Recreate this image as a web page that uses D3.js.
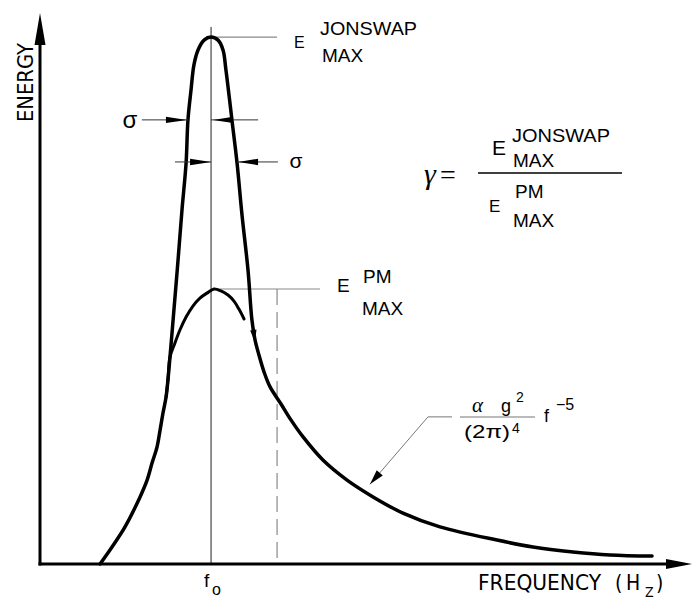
<!DOCTYPE html>
<html>
<head>
<meta charset="utf-8">
<script src="https://cdn.jsdelivr.net/npm/d3@7"></script>
<style>
  body { margin: 0; background: #fff; }
  svg { display: block; }
  .sans { font-family: "Liberation Sans", Arial, sans-serif; }
  .cond { font-family: "DejaVu Sans Condensed", "DejaVu Sans", sans-serif; font-stretch: condensed; }
  .serif { font-family: "Liberation Serif", "Times New Roman", serif; }
</style>
</head>
<body>
<svg id="chart" width="692" height="599"></svg>
<script>
// Frequency is measured in units of the peak frequency f0,
// energy in units of the Pierson-Moskowitz peak value.

// JONSWAP spectrum (rising flank, sharpened peak, f^-5 tail)
const jonswapFreq = [0.351, 0.421, 0.497, 0.585, 0.626, 0.655, 0.684, 0.702, 0.719, 0.737,
  0.748, 0.760, 0.783, 0.807, 0.830, 0.854, 0.865, 0.883, 0.900, 0.924, 0.959, 1.000,
  1.041, 1.070, 1.087, 1.105, 1.122, 1.152, 1.181, 1.216, 1.239, 1.257, 1.280, 1.310,
  1.345, 1.409, 1.467, 1.538, 1.654, 1.795, 1.947, 2.122, 2.338, 2.672, 2.882, 3.116,
  3.332, 3.578];
const jonswapEnergy = [0.000, 0.062, 0.135, 0.244, 0.305, 0.367, 0.425, 0.487, 0.549, 0.607,
  0.669, 0.753, 0.924, 1.105, 1.287, 1.458, 1.615, 1.724, 1.815, 1.869, 1.905, 1.916,
  1.905, 1.869, 1.796, 1.705, 1.615, 1.458, 1.269, 1.069, 0.887, 0.815, 0.760, 0.698,
  0.644, 0.582, 0.524, 0.462, 0.378, 0.305, 0.244, 0.185, 0.135, 0.087, 0.062, 0.044,
  0.033, 0.029];

// Pierson-Moskowitz spectrum around its peak
const pmFreq = [0.737, 0.748, 0.760, 0.789, 0.818, 0.854, 0.894, 0.935, 0.976, 1.017,
  1.058, 1.099, 1.134, 1.163, 1.193];
const pmEnergy = [0.607, 0.669, 0.753, 0.804, 0.851, 0.898, 0.938, 0.967, 0.985, 1.000,
  0.993, 0.978, 0.956, 0.927, 0.891];

// reference values
const f0 = 1.0;
const eMaxJonswap = 1.916;
const eMaxPM = 1.0;
const fDashed = 1.386;

// spectral width markers: level and [from, to] frequency span
const sigmaLevels = [1.615, 1.462];
const sigmaSpans = [[0.865, 1.0], [1.0, 1.152]];

// leader to the f^-5 tail: [frequency, energy] vertices
const leaderFreq = [2.409, 2.268, 1.929];
const leaderEnergy = [0.535, 0.535, 0.290];

const svg = d3.select("#chart");
const x = d3.scaleLinear().domain([0, 3.8]).range([40, 690]);
const y = d3.scaleLinear().domain([0, 2]).range([564, 14]);

function head(tip, from, len, hw) {
  const dx = tip[0] - from[0], dy = tip[1] - from[1];
  const d = Math.hypot(dx, dy), ux = dx / d, uy = dy / d;
  const bx = tip[0] - ux * len, by = tip[1] - uy * len;
  return `M${tip[0]},${tip[1]}L${bx - uy * hw},${by + ux * hw}L${bx + uy * hw},${by - ux * hw}Z`;
}

const line = d3.line().x(d => x(d[0])).y(d => y(d[1])).curve(d3.curveCatmullRom.alpha(0.5));

// ---- reference lines ----
svg.append("line")
  .attr("x1", x(f0)).attr("x2", x(f0))
  .attr("y1", y(eMaxJonswap + 0.037)).attr("y2", y(0))
  .attr("stroke", "#222").attr("stroke-width", 1);

svg.append("line")
  .attr("x1", x(f0) + 2).attr("x2", x(fDashed))
  .attr("y1", y(eMaxJonswap)).attr("y2", y(eMaxJonswap))
  .attr("stroke", "#8a8a8a").attr("stroke-width", 1.2);

svg.append("line")
  .attr("x1", x(f0) + 4).attr("x2", x(1.637))
  .attr("y1", y(eMaxPM)).attr("y2", y(eMaxPM))
  .attr("stroke", "#8a8a8a").attr("stroke-width", 1.2);

svg.append("line")
  .attr("x1", x(fDashed)).attr("x2", x(fDashed))
  .attr("y1", y(eMaxPM)).attr("y2", y(0))
  .attr("stroke", "#8a8a8a").attr("stroke-width", 1.2)
  .attr("stroke-dasharray", "16,7");

// ---- axes ----
const ax = svg.append("g");
ax.append("line").attr("x1", x(0)).attr("x2", x(0))
  .attr("y1", y(0) + 1.5).attr("y2", y(1.92))
  .attr("stroke", "#000").attr("stroke-width", 3);
ax.append("path").attr("d", head([x(0), y(2) - 1], [x(0), y(0)], 32, 5.5)).attr("fill", "#000");
ax.append("line").attr("x1", x(0) - 1.5).attr("x2", x(3.72))
  .attr("y1", y(0)).attr("y2", y(0))
  .attr("stroke", "#000").attr("stroke-width", 3);
ax.append("path").attr("d", head([x(3.8) + 2, y(0)], [x(0), y(0)], 26, 5)).attr("fill", "#000");

// ---- spectra ----
const pmPts = pmFreq.map((f, i) => [f, pmEnergy[i]]);
const jPts = jonswapFreq.map((f, i) => [f, jonswapEnergy[i]]);

svg.append("path").attr("d", line(pmPts))
  .attr("fill", "none").attr("stroke", "#000").attr("stroke-width", 3)
  .attr("stroke-linecap", "round");
svg.append("path").attr("d", line(jPts))
  .attr("fill", "none").attr("stroke", "#000").attr("stroke-width", 3.5)
  .attr("stroke-linecap", "round").attr("stroke-linejoin", "round");

// small direction barb on the descending flank
{
  const i = jonswapFreq.indexOf(1.257);
  const tip = [x(jonswapFreq[i]), y(jonswapEnergy[i]) + 2];
  const from = [x(jonswapFreq[i - 1]), y(jonswapEnergy[i - 1])];
  svg.append("path").attr("d", head(tip, from, 12, 3.2)).attr("fill", "#000");
}

// ---- sigma dimension arrows ----
const sg = svg.append("g");
const ext = [[0.596, 1.275], [0.789, 1.391]];
sigmaLevels.forEach((lv, k) => {
  const [a, b] = sigmaSpans[k];
  const yy = y(lv);
  // from the left, pointing right onto a
  sg.append("line").attr("x1", x(ext[k][0])).attr("x2", x(a)).attr("y1", yy).attr("y2", yy)
    .attr("stroke", "#333").attr("stroke-width", 1);
  sg.append("path").attr("d", head([x(a) - (k === 0 ? 1 : 0), yy], [x(ext[k][0]), yy], 21, 3.2)).attr("fill", "#000");
  // from the right, pointing left onto b
  sg.append("line").attr("x1", x(b)).attr("x2", x(ext[k][1])).attr("y1", yy).attr("y2", yy)
    .attr("stroke", "#333").attr("stroke-width", 1);
  sg.append("path").attr("d", head([x(b) + (k === 0 ? 2 : 1), yy], [x(ext[k][1]), yy], 20, 3.2)).attr("fill", "#000");
});
sg.append("text").attr("class", "sans").attr("x", 130).attr("y", 128)
  .attr("text-anchor", "middle").attr("font-size", 24).text("σ");
sg.append("text").attr("class", "sans").attr("x", 296).attr("y", 168)
  .attr("text-anchor", "middle").attr("font-size", 21).text("σ");

// ---- leader to the tail ----
{
  const pts = leaderFreq.map((f, i) => [x(f), y(leaderEnergy[i])]);
  svg.append("path").attr("d", d3.line()(pts))
    .attr("fill", "none").attr("stroke", "#777").attr("stroke-width", 1);
  svg.append("path").attr("d", head(pts[2], pts[1], 15, 4)).attr("fill", "#000");
}

// ---- labels ----
const T = (cls, xx, yy, size, str, extra) => {
  const t = svg.append("text").attr("class", cls).attr("x", xx).attr("y", yy)
    .attr("font-size", size).attr("fill", "#000").text(str);
  if (extra) extra(t);
  return t;
};

// axis titles
T("cond", 33, 82.5, 21, "ENERGY", t => t.attr("transform", "rotate(-90 33 82.5)")
  .attr("text-anchor", "middle").attr("textLength", 79).attr("lengthAdjust", "spacingAndGlyphs"));
T("cond", 478, 590, 21, "FREQUENCY", t => t.attr("textLength", 123).attr("lengthAdjust", "spacingAndGlyphs"));
T("cond", 615, 590, 21, "(");
T("cond", 626, 590, 21, "H");
T("cond", 645, 597, 14, "Z");
T("cond", 656, 590, 21, ")");

// f0 tick label
T("sans", 204, 587, 19, "f");
T("sans", 212, 595, 16, "o");

// JONSWAP peak label
T("sans", 294, 48, 16, "E");
T("sans", 320, 35, 18, "JONSWAP", t => t.attr("textLength", 97).attr("lengthAdjust", "spacingAndGlyphs"));
T("sans", 322, 62, 19, "MAX");

// PM peak label
T("sans", 337, 292, 19, "E");
T("sans", 363, 283, 19, "PM");
T("sans", 362, 315, 19, "MAX");

// peak enhancement factor
T("serif", 424, 184, 30, "γ", t => t.attr("font-style", "italic"));
T("serif", 440, 184, 28, "=");
svg.append("line").attr("x1", 478).attr("x2", 622).attr("y1", 173).attr("y2", 173)
  .attr("stroke", "#000").attr("stroke-width", 1.3);
T("sans", 492, 155, 21, "E");
T("sans", 512, 142, 19, "JONSWAP", t => t.attr("textLength", 98).attr("lengthAdjust", "spacingAndGlyphs"));
T("sans", 513, 167, 19, "MAX");
T("sans", 489, 212, 17, "E");
T("sans", 515, 198, 19, "PM");
T("sans", 513, 227, 19, "MAX");

// tail law
T("serif", 472, 412, 21, "α", t => t.attr("font-style", "italic"));
T("sans", 501, 412, 18, "g");
T("sans", 516, 402, 14, "2");
svg.append("line").attr("x1", 460).attr("x2", 535).attr("y1", 417).attr("y2", 417)
  .attr("stroke", "#777").attr("stroke-width", 1.2);
T("sans", 464, 438, 18, "(2π)", t => t.attr("textLength", 46).attr("lengthAdjust", "spacingAndGlyphs"));
T("sans", 512, 433, 14, "4");
T("sans", 544, 422, 18, "f");
T("sans", 556, 410, 16, "−5");
</script>
</body>
</html>
